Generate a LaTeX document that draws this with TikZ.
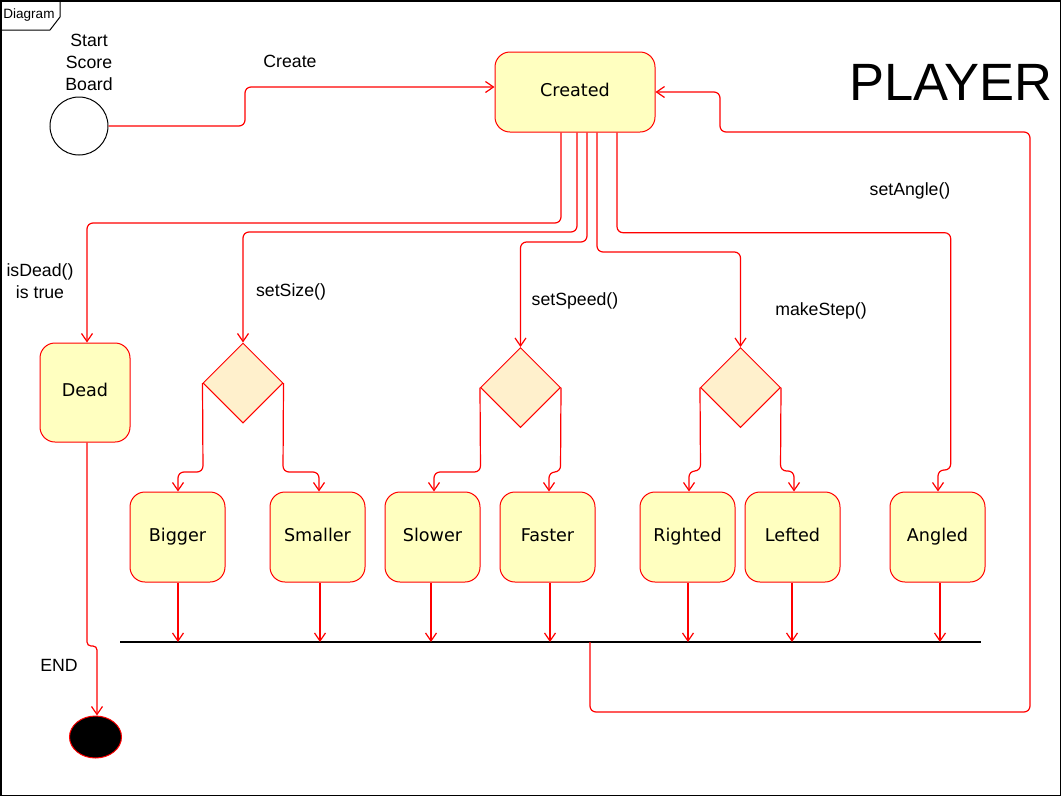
\documentclass[tikz,border=0pt]{standalone}
\usepackage{fontspec}
\setmainfont{Liberation Sans}
\newfontfamily\dvs{DejaVu Sans}
\usetikzlibrary{arrows.meta,shapes.geometric}
\definecolor{stfill}{HTML}{FFFFC0}
\definecolor{dmfill}{HTML}{FFF0CC}
\begin{document}
\begin{tikzpicture}[x=1pt,y=-1pt,
  stbox/.style={draw=red, fill=stfill, rounded corners=15pt, minimum width=95pt, minimum height=90pt,
    font=\dvs\fontsize{17.6}{20}\selectfont, line width=1pt, inner sep=0pt, text height=13pt, text depth=4.6pt},
  decision/.style={diamond, shape aspect=1, draw=red, fill=dmfill, minimum width=80pt, minimum height=80pt,
    inner sep=0pt, line width=1pt},
  conn/.style={draw=red, line width=1.2pt, rounded corners=6pt, -{Straight Barb[length=8pt,width=11pt]}},
  lbl/.style={font=\fontsize{17.7}{22}\selectfont, inner sep=0pt, align=center}]
\useasboundingbox (0,0) rectangle (1061,796);
% frame
\draw[line width=1.5pt] (0.75,0.75) rectangle (1060.25,795.25);
\draw[line width=1pt] (0,30) -- (50,30) -- (60,17) -- (60,0);
\node[font=\fontsize{13.5}{15}\selectfont, inner sep=0pt] (tab) at (29,15) {Diagram};
% title
\node[font=\fontsize{52.5}{60}\selectfont, inner sep=0pt] (title) at (951,82) {PLAYER};
% nodes
\node[circle, draw=black, line width=1pt, minimum size=58pt, inner sep=0pt] (start) at (79,126) {};
\node[lbl] (lstart) at (89,62) {Start\\Score\\Board};
\node[stbox, minimum width=160pt, minimum height=80pt] (created) at (575,92) {Created};
\node[stbox, minimum width=90pt, minimum height=99pt] (dead) at (85,392.5) {Dead};
\node[decision] (d1) at (243,383) {};
\node[decision] (d2) at (520.5,387.5) {};
\node[decision] (d3) at (740.5,387.5) {};
\node[stbox] (bigger) at (177.5,537) {Bigger};
\node[stbox] (smaller) at (317.5,537) {Smaller};
\node[stbox] (slower) at (432.5,537) {Slower};
\node[stbox] (faster) at (547.5,537) {Faster};
\node[stbox] (righted) at (687.5,537) {Righted};
\node[stbox] (lefted) at (792.5,537) {Lefted};
\node[stbox] (angled) at (937.5,537) {Angled};
\node[ellipse, draw=red, fill=black, line width=1pt, minimum width=52pt, minimum height=42pt, inner sep=0pt] (end) at (95.5,737) {};
% labels
\node[lbl] (lcreate) at (290,61) {Create};
\node[lbl] (lsetsize) at (291,292) {setSize()};
\node[lbl] (lspeed) at (575,301) {setSpeed()};
\node[lbl] (lstep) at (821,311) {makeStep()};
\node[lbl] (langle) at (910,191) {setAngle()};
\node[lbl] (ldead) at (40,281) {isDead()\\is true};
\node[lbl] (lend) at (59,665) {END};
% start -> created
\coordinate (s1) at (245,126); \coordinate (s2) at (245,87);
\draw[conn] (start.east) -- (s1) -- (s2) -- (created.west |- s2);
% created -> dead
\coordinate (a1) at (561,223); \coordinate (a2) at (87,223);
\draw[conn] (created.south -| a1) -- (a1) -- (a2) -- (dead.north -| a2);
% created -> d1
\coordinate (b1) at (577,232); \coordinate (b2) at (243,232);
\draw[conn] (created.south -| b1) -- (b1) -- (b2) -- (d1.north);
% created -> d2
\coordinate (c1) at (587,242); \coordinate (c2) at (520.5,242);
\draw[conn] (created.south -| c1) -- (c1) -- (c2) -- (d2.north);
% created -> d3
\coordinate (e1) at (597,252); \coordinate (e2) at (740.5,252);
\draw[conn] (created.south -| e1) -- (e1) -- (e2) -- (d3.north);
% created -> angled
\coordinate (f1) at (617,232.7); \coordinate (f2) at (950.7,232.7);
\coordinate (f3) at (950.7,470); \coordinate (f4) at (938,470);
\draw[conn] (created.south -| f1) -- (f1) -- (f2) -- (f3) -- (f4) -- (angled.north -| f4);
% d1 branches
\coordinate (g1) at (203,472); \coordinate (g2) at (178,472);
\draw[conn] (d1.west) -- (g1) -- (g2) -- (bigger.north -| g2);
\coordinate (g3) at (283,472); \coordinate (g4) at (319,472);
\draw[conn] (d1.east) -- (g3) -- (g4) -- (smaller.north -| g4);
% d2 branches
\coordinate (h1) at (480.5,472); \coordinate (h2) at (434,472);
\draw[conn] (d2.west) -- (h1) -- (h2) -- (slower.north -| h2);
\coordinate (h3) at (560.5,472); \coordinate (h4) at (549,472);
\draw[conn] (d2.east) -- (h3) -- (h4) -- (faster.north -| h4);
% d3 branches
\coordinate (i1) at (700.5,471); \coordinate (i2) at (689,471);
\draw[conn] (d3.west) -- (i1) -- (i2) -- (righted.north -| i2);
\coordinate (i3) at (780.5,471); \coordinate (i4) at (794,471);
\draw[conn] (d3.east) -- (i3) -- (i4) -- (lefted.north -| i4);
% bar
\coordinate (barL) at (120,642); \coordinate (barR) at (981,642);
\draw[black, line width=1.3pt] (barL) -- (barR);
\coordinate (t1) at (178,642); \coordinate (t2) at (320,642); \coordinate (t3) at (431,642);
\coordinate (t4) at (550,642); \coordinate (t5) at (688,642); \coordinate (t6) at (792,642);
\coordinate (t7) at (940,642);
\draw[conn] (bigger.south -| t1) -- (t1);
\draw[conn] (smaller.south -| t2) -- (t2);
\draw[conn] (slower.south -| t3) -- (t3);
\draw[conn] (faster.south -| t4) -- (t4);
\draw[conn] (righted.south -| t5) -- (t5);
\draw[conn] (lefted.south -| t6) -- (t6);
\draw[conn] (angled.south -| t7) -- (t7);
% loop back
\coordinate (r0) at (590,642); \coordinate (r1) at (590,712); \coordinate (r2) at (1030,712);
\coordinate (r3) at (1030,132); \coordinate (r4) at (720,132); \coordinate (r5) at (720,92);
\draw[conn] (r0) -- (r1) -- (r2) -- (r3) -- (r4) -- (r5) -- (created.east |- r5);
% dead -> end
\coordinate (k1) at (87,646); \coordinate (k2) at (97,646);
\draw[conn, rounded corners=4pt] (dead.south -| k1) -- (k1) -- (k2) -- (end.north -| k2);
\end{tikzpicture}
\end{document}
